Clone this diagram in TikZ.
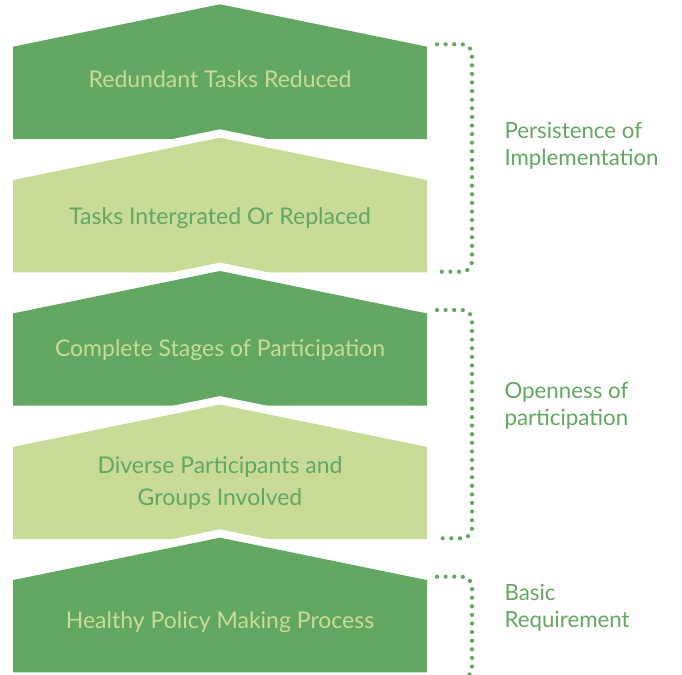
\documentclass[tikz,border=0pt]{standalone}
\usepackage{fontspec}
\setmainfont{Lato}
\definecolor{dg}{HTML}{62A762}
\definecolor{lg}{HTML}{C8DC98}
\newcommand\chevshape[3]{%
  \fill[white] (13,#1+34) -- (220,#1-8.4) -- (427,#1+34) -- (427,#1+134.7) -- (13,#1+134.7) -- cycle;
  \fill[#2] (13,#1+42.4) -- (220,#1) -- (427,#1+42.4) -- (427,#1+134.7) -- (13,#1+134.7) -- cycle;}
\tikzset{
  boxtext/.style={anchor=base, align=center, inner sep=0pt, font=\fontsize{23}{31.7}\selectfont},
  sidelabel/.style={anchor=base west, align=left, inner sep=0pt, text=dg, font=\fontsize{22.3}{27}\selectfont},
  bracket/.style={draw=dg, line width=4.2pt, line cap=round, dash pattern=on 0pt off 8.6pt, rounded corners=10pt},
}
\begin{document}
\begin{tikzpicture}[x=1pt,y=-1pt]
\useasboundingbox (0,0) rectangle (682,674);
\clip (0,0) rectangle (682,674);
\chevshape{4.3}{dg}{}
\chevshape{137.7}{lg}{}
\chevshape{271}{dg}{}
\chevshape{404.5}{lg}{}
\chevshape{537.7}{dg}{}
\node[boxtext, text=lg] (t1) at (220,87.3) {Redundant Tasks Reduced};
\node[boxtext, text=dg] (t2) at (220,224) {Tasks Intergrated Or Replaced};
\node[boxtext, text=lg] (t3) at (220,356.7) {Complete Stages of Participation};
\node[boxtext, text=dg] (t4) at (220,505) {Diverse Participants and\\Groups Involved};
\node[boxtext, text=lg] (t5) at (220,628.3) {Healthy Policy Making Process};
\coordinate (b1a) at (437,44.3);
\coordinate (b1b) at (437,271.7);
\coordinate (b2a) at (437,310);
\coordinate (b2b) at (437,538.3);
\coordinate (b3a) at (437,576.7);
\coordinate (b3b) at (437,678);
\draw[bracket] (b1a) -- (472,44.3) -- (472,271.7) -- (b1b);
\draw[bracket] (b2a) -- (472,310) -- (472,538.3) -- (b2b);
\draw[bracket] (b3a) -- (472,576.7) -- (472,678) -- (b3b);
\node[sidelabel] (l1) at (504.3,165) {Persistence of\\Implementation};
\node[sidelabel] (l2) at (504.3,425) {Openness of\\participation};
\node[sidelabel] (l3) at (504.3,627.3) {Basic\\Requirement};
\end{tikzpicture}
\end{document}
